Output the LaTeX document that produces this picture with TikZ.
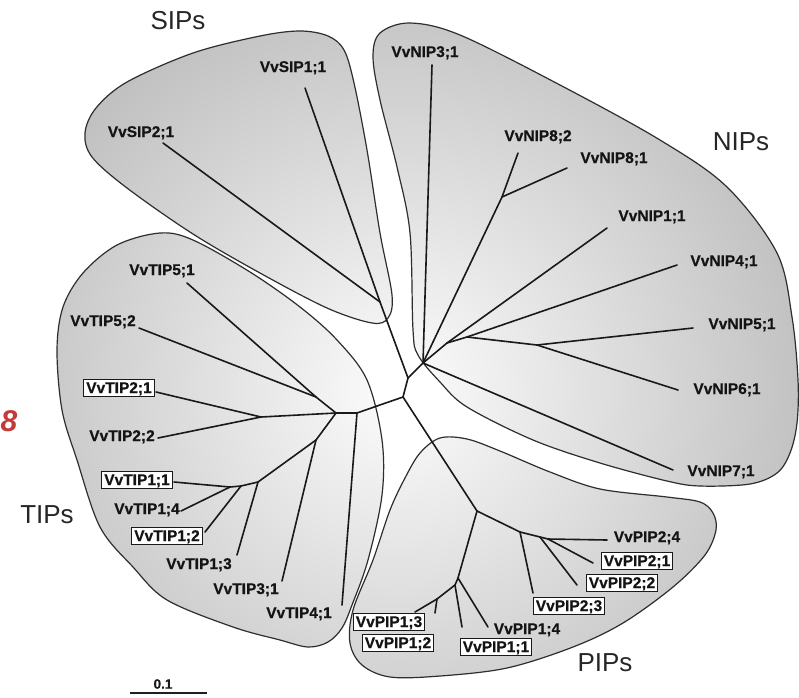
\documentclass[tikz,border=0pt]{standalone}
\usepackage{fontspec}
\setmainfont{Liberation Sans}
\newfontfamily\lblfam{Liberation Sans}[BoldFeatures={FakeBold=0.5}]
\definecolor{redeight}{RGB}{196,58,56}
\newcommand\lblfont{\lblfam\fontsize{15.5}{16}\selectfont\bfseries}
\newcommand\grpfont{\fontsize{26}{28}\selectfont}
\newcommand\hullSIP[1]{\path[#1] plot[smooth cycle, tension=0.55] coordinates {(85,133) (96,108) (127,82) (193,53) (260,36) (300,31) (328,36) (344,50) (354,83) (367,150) (380,233) (392,295) (388,318) (372,323) (327,308) (260,273) (193,234) (127,188) (92,157)};}
\newcommand\hullNIP[1]{\path[#1] plot[smooth cycle, tension=0.55] coordinates {(380,33) (410,23) (460,35) (560,85) (660,140) (727,187) (777,253) (792,317) (798,380) (797,423) (790,453) (777,473) (750,484) (700,486) (667,481) (600,463) (533,440) (467,407) (440,382) (418,355) (413,330) (410,233) (397,167) (380,100) (373,57)};}
\newcommand\hullTIP[1]{\path[#1] plot[smooth cycle, tension=0.55] coordinates {(57,350) (63,307) (83,273) (117,245) (160,233) (193,240) (250,272) (300,307) (337,340) (367,380) (382,440) (382,495) (368,560) (352,605) (342,628) (328,642) (308,647) (280,640) (233,627) (167,600) (133,567) (100,527) (77,460) (62,410)};}
\newcommand\hullPIP[1]{\path[#1] plot[smooth cycle, tension=0.55] coordinates {(440,438) (467,439) (500,451) (550,472) (600,489) (667,497) (700,502) (713,513) (716,530) (705,555) (673,587) (623,623) (573,647) (507,668) (440,676) (390,677) (362,665) (350,643) (353,610) (373,560) (390,510) (405,478) (420,453)};}
\begin{document}
\begin{tikzpicture}[x=1pt,y=-1pt,
  br/.style={line width=1.6pt, draw=black!90, line cap=round, line join=round},
  hullline/.style={draw=black!82, line width=1.2pt},
  lab/.style={font=\lblfont, text=black!92, inner sep=0pt, text height=11pt, text depth=1pt},
  boxlab/.style={lab, draw=black!90, fill=white, line width=1pt, inner xsep=2.5pt, inner ysep=2.5pt},
  grp/.style={font=\grpfont, text=black!85, inner sep=0pt},
  hullshade/.style={inner color=black!1, outer color=black!46}]
\useasboundingbox (0,0) rectangle (799,697);
\fill[white] (0,0) rectangle (799,697);
\coordinate (ctr) at (400,390);
% hull shading
\begin{scope}\hullSIP{clip}\shade[hullshade] (ctr) circle (790pt);\end{scope}
\begin{scope}\hullNIP{clip}\shade[hullshade] (ctr) circle (790pt);\end{scope}
\begin{scope}\hullTIP{clip}\shade[hullshade] (ctr) circle (790pt);\end{scope}
\begin{scope}\hullPIP{clip}\shade[hullshade] (ctr) circle (790pt);\end{scope}
\hullSIP{hullline}
\hullNIP{hullline}
\hullTIP{hullline}
\hullPIP{hullline}
% coordinates of the tree
\coordinate (S) at (380,302);
\coordinate (sip1e) at (305,88);
\coordinate (sip2e) at (163,143);
\coordinate (C1) at (408,378);
\coordinate (C2) at (403,397);
\coordinate (N0) at (423,363);
\coordinate (nip3e) at (432,65);
\coordinate (N8) at (502,197);
\coordinate (nip82e) at (518,153);
\coordinate (nip81e) at (567,168);
\coordinate (N1) at (447,343);
\coordinate (nip1e) at (607,228);
\coordinate (N2) at (467,337);
\coordinate (nip4e) at (677,265);
\coordinate (N3) at (537,345);
\coordinate (nip5e) at (693,328);
\coordinate (nip6e) at (678,390);
\coordinate (nip7e) at (673,470);
\coordinate (TC3) at (377,406);
\coordinate (TC2) at (357,413);
\coordinate (tip4e) at (342,605);
\coordinate (TH) at (336,413);
\coordinate (T5) at (316,397);
\coordinate (tip51e) at (187,283);
\coordinate (tip52e) at (139,328);
\coordinate (T2) at (261,417);
\coordinate (tip21e) at (156,392);
\coordinate (tip22e) at (158,438);
\coordinate (T1) at (316,440);
\coordinate (tip3e) at (282,581);
\coordinate (J1) at (258,482);
\coordinate (tip13e) at (237,555);
\coordinate (J2) at (241,486);
\coordinate (tip12e) at (205,532);
\coordinate (J3) at (230,487);
\coordinate (tip11e) at (174,482);
\coordinate (tip14e) at (181,511);
\coordinate (P0) at (477,511);
\coordinate (P2a) at (520,532);
\coordinate (P2b) at (540,537);
\coordinate (P2c) at (548,539);
\coordinate (pip24e) at (607,540);
\coordinate (pip23e) at (533,593);
\coordinate (pip22e) at (577,585);
\coordinate (pip21e) at (593,563);
\coordinate (P1a) at (458,578);
\coordinate (pip14e) at (488,627);
\coordinate (P1b) at (455,585);
\coordinate (pip11e) at (462,627);
\coordinate (P1c) at (437,599);
\coordinate (pip12e) at (435,613);
\coordinate (pip13e) at (415,612);
% branches
\draw[br] (S) -- (sip1e);
\draw[br] (S) -- (sip2e);
\draw[br] (S) -- (C1);
\draw[br] (C1) -- (N0);
\draw[br] (C1) -- (C2);
\draw[br] (N0) -- (nip3e);
\draw[br] (N0) -- (N8);
\draw[br] (N8) -- (nip82e);
\draw[br] (N8) -- (nip81e);
\draw[br] (N0) -- (N1);
\draw[br] (N1) -- (nip1e);
\draw[br] (N1) -- (N2);
\draw[br] (N2) -- (nip4e);
\draw[br] (N2) -- (N3);
\draw[br] (N3) -- (nip5e);
\draw[br] (N3) -- (nip6e);
\draw[br] (N0) -- (nip7e);
\draw[br] (C2) -- (TC3);
\draw[br] (TC3) -- (TC2);
\draw[br] (TC2) -- (tip4e);
\draw[br] (TC2) -- (TH);
\draw[br] (TH) -- (T5);
\draw[br] (T5) -- (tip51e);
\draw[br] (T5) -- (tip52e);
\draw[br] (TH) -- (T2);
\draw[br] (T2) -- (tip21e);
\draw[br] (T2) -- (tip22e);
\draw[br] (TH) -- (T1);
\draw[br] (T1) -- (tip3e);
\draw[br] (T1) -- (J1);
\draw[br] (J1) -- (tip13e);
\draw[br] (J1) -- (J2);
\draw[br] (J2) -- (tip12e);
\draw[br] (J2) -- (J3);
\draw[br] (J3) -- (tip11e);
\draw[br] (J3) -- (tip14e);
\draw[br] (C2) -- (P0);
\draw[br] (P0) -- (P2a);
\draw[br] (P2a) -- (pip23e);
\draw[br] (P2a) -- (P2b);
\draw[br] (P2b) -- (pip22e);
\draw[br] (P2b) -- (P2c);
\draw[br] (P2c) -- (pip21e);
\draw[br] (P2c) -- (pip24e);
\draw[br] (P0) -- (P1a);
\draw[br] (P1a) -- (pip14e);
\draw[br] (P1a) -- (P1b);
\draw[br] (P1b) -- (pip11e);
\draw[br] (P1b) -- (P1c);
\draw[br] (P1c) -- (pip12e);
\draw[br] (P1c) -- (pip13e);
% leaf labels
\node[lab] (lsip1) at (293,67) {VvSIP1;1};
\node[lab] (lsip2) at (141,132) {VvSIP2;1};
\node[lab] (lnip3) at (425,52) {VvNIP3;1};
\node[lab] (lnip82) at (538,136) {VvNIP8;2};
\node[lab] (lnip81) at (614,158) {VvNIP8;1};
\node[lab] (lnip1) at (652,216) {VvNIP1;1};
\node[lab] (lnip4) at (724,261) {VvNIP4;1};
\node[lab] (lnip5) at (742,324) {VvNIP5;1};
\node[lab] (lnip6) at (727,389) {VvNIP6;1};
\node[lab] (lnip7) at (721,471) {VvNIP7;1};
\node[lab] (ltip51) at (162,270) {VvTIP5;1};
\node[lab] (ltip52) at (103,321) {VvTIP5;2};
\node[boxlab] (ltip21) at (119,388) {VvTIP2;1};
\node[lab] (ltip22) at (122,436) {VvTIP2;2};
\node[boxlab] (ltip11) at (137,480) {VvTIP1;1};
\node[lab] (ltip14) at (147,509) {VvTIP1;4};
\node[boxlab] (ltip12) at (167,536) {VvTIP1;2};
\node[lab] (ltip13) at (199,564) {VvTIP1;3};
\node[lab] (ltip3) at (246,589) {VvTIP3;1};
\node[lab] (ltip4) at (299,613) {VvTIP4;1};
\node[lab] (lpip24) at (647,537) {VvPIP2;4};
\node[boxlab] (lpip21) at (637,561) {VvPIP2;1};
\node[boxlab] (lpip22) at (622,583) {VvPIP2;2};
\node[boxlab] (lpip23) at (569,606) {VvPIP2;3};
\node[lab] (lpip14) at (527,629) {VvPIP1;4};
\node[boxlab] (lpip11) at (496,647) {VvPIP1;1};
\node[boxlab] (lpip13) at (389,622) {VvPIP1;3};
\node[boxlab] (lpip12) at (398,643) {VvPIP1;2};
% group labels
\node[grp] (gsip) at (178,21) {SIPs};
\node[grp] (gnip) at (741,142) {NIPs};
\node[grp] (gtip) at (47,515) {TIPs};
\node[grp] (gpip) at (605,663) {PIPs};
% red mark
\node[inner sep=0pt, text=redeight, font=\fontsize{30}{30}\selectfont\bfseries\itshape] (eight) at (9,421) {8};
% scale bar
\coordinate (sbl) at (130,693);
\coordinate (sbr) at (207,693);
\draw[line width=1.8pt, draw=black!88] (sbl) -- (sbr);
\node[font=\lblfam\fontsize{13.5}{14}\selectfont\bfseries, inner sep=0pt, text=black!90] (sbt) at (163,684) {0.1};
\end{tikzpicture}
\end{document}
